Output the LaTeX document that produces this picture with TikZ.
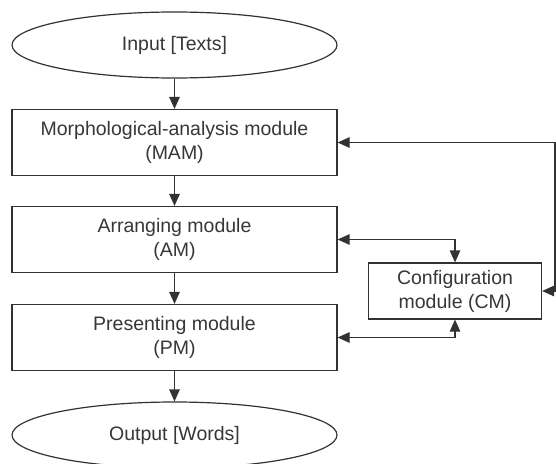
\documentclass[tikz,border=0pt]{standalone}
\usepackage{fontspec}
\setmainfont{Liberation Sans}
\usepackage{xcolor}
\usepackage{tikz}
\usetikzlibrary{positioning,calc,arrows.meta,shapes.geometric}
\definecolor{LineGray}{RGB}{50,50,50}
\definecolor{TextGray}{RGB}{55,55,55}

\begin{document}
\begin{tikzpicture}[x=1pt,y=-1pt]
	\tikzset{
		box/.style={rectangle, draw=LineGray, line width=1.2pt, fill=white,
			minimum width=325pt, minimum height=66pt, inner sep=0pt,
			align=center, font=\fontsize{19.5}{24}\selectfont, text=TextGray},
		oval/.style={ellipse, draw=LineGray, line width=1.2pt, fill=white,
			minimum width=325pt, minimum height=66pt, inner sep=0pt,
			font=\fontsize{19.5}{24}\selectfont, text=TextGray},
		cbox/.style={box, minimum width=173pt, minimum height=56pt},
		head/.tip={Triangle[length=12pt,width=10.5pt]},
		ln/.style={draw=LineGray, line width=1.2pt, -head},
		bi/.style={ln, head-head}
	}
	\useasboundingbox (0,0) rectangle (556,463);
	\node[oval] (in) at (174.5, 45) {Input [Texts]};
	\node[box] (mam) at (174.5, 142.5) {Morphological-analysis module\\(MAM)};
	\node[box] (am) at (174.5, 239.5) {Arranging module\\(AM)};
	\node[box] (pm) at (174.5, 337.5) {Presenting module\\(PM)};
	\node[oval] (out) at (174.5, 435) {Output [Words]};
	\node[cbox] (cm) at (455, 291) {Configuration\\module (CM)};
	\coordinate (fb) at (555, 220);
	
	\draw[ln] (in) -- (mam);
	\draw[ln] (mam) -- (am);
	\draw[ln] (am) -- (pm);
	\draw[ln] (pm) -- (out);
	\draw[bi] (mam.east) -| (fb) |- (cm.east);
	\draw[bi] (am.east) -| (cm.north);
	\draw[bi] (pm.east) -| (cm.south);
\end{tikzpicture}
\end{document}
